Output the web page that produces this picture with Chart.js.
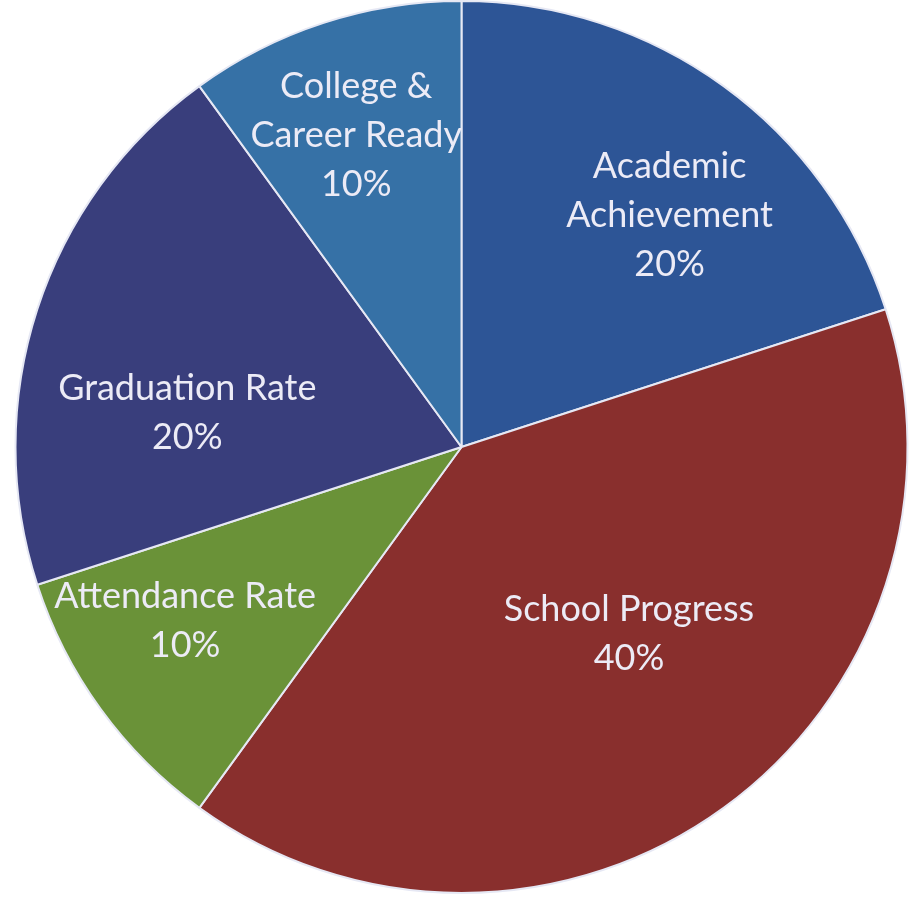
<!DOCTYPE html>
<html><head><meta charset="utf-8">
<script src="https://cdn.jsdelivr.net/npm/chart.js@4.4.1/dist/chart.umd.min.js"></script>
<style>html,body{margin:0;padding:0;background:#fff;}#wrap{width:923px;height:898px;}</style>
</head><body><div id="wrap"><canvas id="c"></canvas></div>
<script>
const categories = [["Academic","Achievement"],["School Progress"],["Attendance Rate"],["Graduation Rate"],["College &","Career Ready"]];
const values = [20, 40, 10, 20, 10];
const colors = ["#2d5596", "#892f2d", "#6a9238", "#393e7c", "#3671a6"];
const labelRadiusFrac = [0.70, 0.56, 0.73, 0.62, 0.74];
const labelAngleShift = [5.8, -6.1, 4.1, -10.6, -0.6];

const labelPlugin = {
  id: 'sliceLabels',
  afterDatasetsDraw(chart) {
    const ctx = chart.ctx;
    const meta = chart.getDatasetMeta(0);
    const total = values.reduce((a,b)=>a+b,0);
    ctx.save();
    ctx.fillStyle = '#ecebf6';
    ctx.textAlign = 'center';
    ctx.textBaseline = 'alphabetic';
    ctx.font = '36px Lato, "Open Sans", sans-serif';
    meta.data.forEach((arc, i) => {
      const p = arc.getProps(['x','y','startAngle','endAngle','outerRadius'], true);
      const mid = (p.startAngle + p.endAngle) / 2 + labelAngleShift[i] * Math.PI / 180;
      const r = p.outerRadius * labelRadiusFrac[i];
      const cx = p.x + Math.cos(mid) * r;
      const cy = p.y + Math.sin(mid) * r;
      const lines = categories[i].concat([Math.round(values[i] / total * 100) + '%']);
      const lh = 49;
      const top = cy - (lines.length - 1) * lh / 2;
      lines.forEach((t, k) => ctx.fillText(t, cx, top + k * lh + 13));
    });
    ctx.restore();
  }
};

new Chart(document.getElementById('c'), {
  type: 'pie',
  data: {
    labels: categories.map(c => c.join(' ')),
    datasets: [{ data: values, backgroundColor: colors, borderColor: '#e6e8f4', borderWidth: 2 }]
  },
  options: {
    responsive: true, maintainAspectRatio: false, animation: false,
    layout: { padding: { top: 0, bottom: 4 } },
    plugins: { legend: { display: false }, tooltip: { enabled: false } }
  },
  plugins: [labelPlugin]
});
</script></body></html>
